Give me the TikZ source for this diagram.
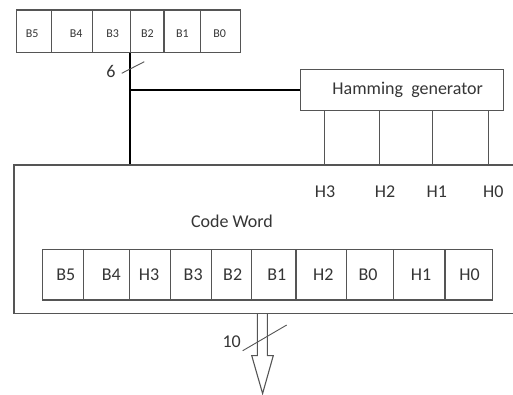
\documentclass[tikz,border=0pt]{standalone}
\usepackage{fontspec}
\setmainfont{Carlito}
\usetikzlibrary{calc}
\definecolor{linegray}{HTML}{555555}
\definecolor{txtgray}{HTML}{353535}
\tikzset{
  thinline/.style={draw=linegray, line width=1.1bp},
  bus/.style={draw=black, line width=2.4bp},
  cellbox/.style={thinline, inner sep=0pt, text=txtgray},
  topcell/.style={cellbox, minimum height=42.7bp, font=\fontsize{12bp}{14bp}\selectfont},
  wordcell/.style={cellbox, minimum height=50.7bp, font=\fontsize{18bp}{21bp}\selectfont},
  lbl/.style={inner sep=0pt, text=txtgray, font=\fontsize{18bp}{21bp}\selectfont},
}
\begin{document}
\begin{tikzpicture}[x=1bp, y=-1bp]
\useasboundingbox (0,0) rectangle (513,394);
\clip (0,0) rectangle (513,394);

% 6-bit data register
\foreach \l/\r/\t/\dx [count=\i] in {16.7/51.7/B5/-2, 51.7/92.7/B4/4, 92.7/130.7/B3/1,
    130.7/164/B2/0, 164/200.7/B1/0, 200.7/240.7/B0/-1} {
  \node[topcell, minimum width={(\r-\l)*1bp}] (top\i) at ({(\l+\r)/2}, 31.35) {};
  \node[topcell, draw=none] (tl\i) at ($(top\i.center)+(\dx,2)$) {\t};
}

% Hamming generator block
\node[thinline, inner sep=0pt, minimum width=203.3bp, minimum height=41.4bp,
      text=txtgray, font=\fontsize{18bp}{21bp}\selectfont]
  (hg) at (401.7, 90) {\hspace*{12bp}Hamming\ \ generator};

% Code word block (runs past the right border)
\node[thinline, inner sep=0pt, minimum width=516bp, minimum height=148.3bp]
  (cw) at (272, 239.15) {};

\node[lbl] (cwl) at (232, 221) {Code Word};

% 10-bit code word register
\foreach \l/\r/\t/\dx [count=\i] in {42.3/83.3/B5/3, 83.3/129.3/B4/5, 129.3/170.7/H3/-1,
    170.7/211.7/B3/2, 211.7/251.7/B2/1, 251.7/296/B1/3, 296/346.7/H2/2,
    346.7/393.3/B0/-2, 393.3/445/H1/2, 445/492.3/H0/1} {
  \node[wordcell, minimum width={(\r-\l)*1bp}] (w\i) at ({(\l+\r)/2}, 274.65) {};
  \node[wordcell, draw=none] (wl\i) at ($(w\i.center)+(\dx,0)$) {\t};
}

% parity lines from the generator into the code word block
\foreach \x/\t/\lx [count=\i] in {324.3/H3/325, 379.3/H2/385, 432.7/H1/436.7, 488.3/H0/493.3} {
  \coordinate (p\i) at (\x, 0);
  \draw[thinline] (hg.south -| p\i) -- (cw.north -| p\i);
  \node[lbl] (h\i) at (\lx, 192) {\t};
}

% 6-bit data bus
\coordinate (tap) at (top4.south west);
\draw[bus] (tap) -- (cw.north -| tap);
\draw[bus] (tap |- hg.west) -- (hg.west);
\draw[thinline, line width=0.9bp] (121.7,73.3) -- (144.3,61.7);
\node[lbl] (n6) at (111, 71) {6};

% 10-bit output arrow
\coordinate (out) at (cw.south -| 262.3,0);
\draw[thinline, line join=miter]
  ($(out)+(-5,0)$) -- ++(0,41.7) -- ++(-5.6,0) -- ($(out)+(0.3,79.7)$)
  -- ($(out)+(11,41.7)$) -- ++(-6,0) -- ++(0,-41.7);
\draw[thinline, line width=0.9bp] (242.7,350.7) -- (286.7,325);
\node[lbl] (n10) at (231.7, 341.5) {10};
\end{tikzpicture}
\end{document}
